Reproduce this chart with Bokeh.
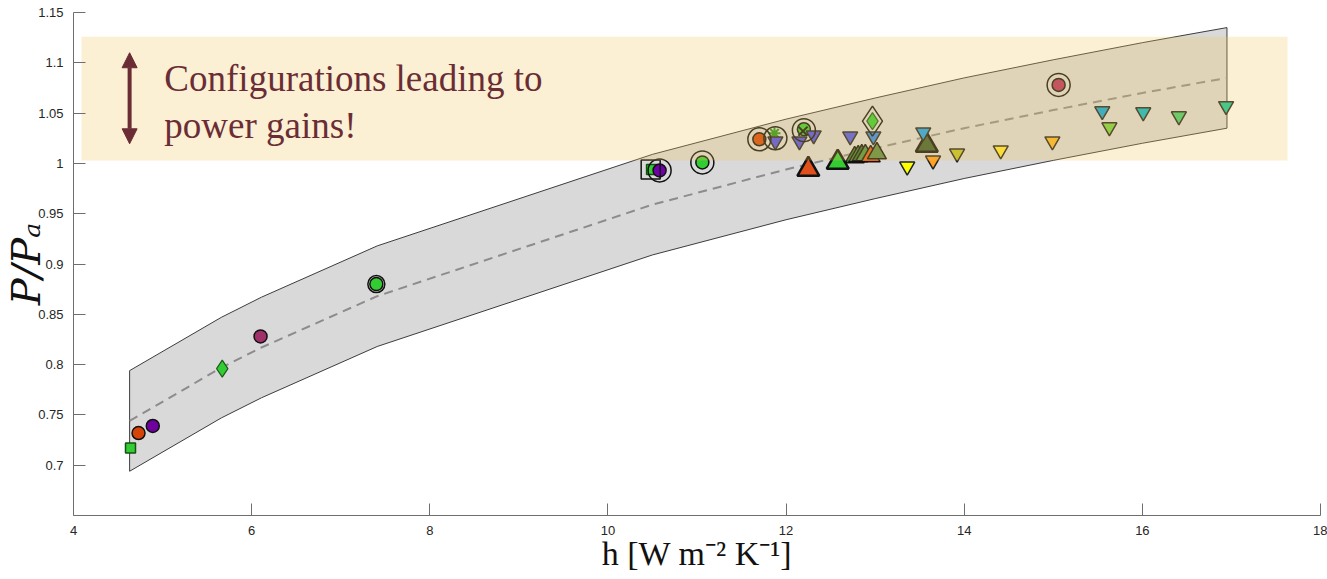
from bokeh.plotting import figure
from bokeh.models import (Range1d, FixedTicker, NumeralTickFormatter, Label,
                          Arrow, NormalHead)
from bokeh.embed import file_html
from bokeh.resources import INLINE

# ---------------- data ----------------
x_ticks = [4, 6, 8, 10, 12, 14, 16, 18]
y_ticks = [0.7, 0.75, 0.8, 0.85, 0.9, 0.95, 1.0, 1.05, 1.1, 1.15]
x_title = "h [W m\u207b\u00b2 K\u207b\u00b9]"
y_title = "P/P\u2090"

# fitted trend (dashed) and its uncertainty band
band_h     = [4.63, 5.66, 6.11, 7.41, 10.5, 12.0, 13.0, 14.0, 15.0, 16.0, 16.95]
trend_p    = [0.744, 0.797, 0.817, 0.868, 0.959, 0.994, 1.015, 1.035, 1.053, 1.070, 1.085]
band_upper = [0.794, 0.847, 0.867, 0.918, 1.009, 1.044, 1.065, 1.085, 1.103, 1.120, 1.135]
band_lower = [0.694, 0.747, 0.767, 0.818, 0.909, 0.944, 0.965, 0.985, 1.003, 1.020, 1.035]

# highlighted "power gain" region
gain_h = [4.09, 17.63]
gain_p = [1.003, 1.126]

# filled circles
circle_h = [4.73, 4.89, 6.10, 7.40, 10.58, 11.06, 11.70, 12.20, 15.06]
circle_p = [0.732, 0.739, 0.828, 0.880, 0.993, 1.001, 1.024, 1.034, 1.078]
circle_c = ["#D6440A", "#6E00A0", "#A0306A", "#33CC33", "#7000A8",
            "#33CC33", "#D6440A", "#33CC33", "#B32E62"]

# filled squares
square_h = [4.64, 10.49]
square_p = [0.717, 0.994]
square_c = ["#33CC33", "#33CC33"]

# filled diamonds
diamond_h = [5.67, 12.97]
diamond_p = [0.796, 1.042]
diamond_c = ["#33CC33", "#33CC33"]

# upward triangles (cluster)
tri_h = [12.77, 12.81, 12.85, 12.89, 12.95, 13.02]
tri_p = [1.006, 1.007, 1.008, 1.008, 1.007, 1.010]
tri_c = ["#2F7F2F", "#3A8A32", "#2B6E2B", "#4A9040", "#E85A12", "#5A8A44"]

# large upward triangles
bigtri_h = [12.25, 12.58, 13.58]
bigtri_p = [0.994, 1.001, 1.018]
bigtri_c = ["#E0501A", "#33CC33", "#3E5E30"]

# downward triangles
itri_h = [11.88, 12.15, 12.31, 12.72, 12.98, 13.36, 13.54, 13.65,
          13.92, 14.41, 14.99, 15.55, 15.63, 16.01, 16.41, 16.94]
itri_p = [1.022, 1.022, 1.028, 1.027, 1.027, 0.997, 1.031, 1.003,
          1.010, 1.013, 1.022, 1.052, 1.036, 1.051, 1.047, 1.057]
itri_c = ["#4B4BEB", "#4B4BEB", "#4B4BEB", "#4B55EE", "#2D86F0", "#FFFF00",
          "#1AA0F0", "#FFA020", "#BDC125", "#FFE530", "#FAB428", "#0AA5DC",
          "#76D040", "#00B8C8", "#40CC70", "#10C89A"]

# highlight rings / open outlines
ring_h = [10.58, 11.06, 11.70, 11.88, 12.20, 15.06]
ring_p = [0.993, 1.001, 1.024, 1.025, 1.033, 1.078]
ring_small_h = [7.40]
ring_small_p = [0.880]
open_square_h = [10.48]
open_square_p = [0.994]
open_diamond_h = [12.97]
open_diamond_p = [1.042]
cross_h = [12.19]
cross_p = [1.032]
star_h = [11.87]
star_p = [1.030]

# ---------------- figure ----------------
p = figure(width=1327, height=579, output_backend="svg", toolbar_location=None,
           x_range=Range1d(4, 18), y_range=Range1d(0.65, 1.15),
           min_border_left=72, min_border_right=7, min_border_top=12,
           min_border_bottom=64)
p.outline_line_color = None
p.grid.visible = False
p.background_fill_color = "white"
p.border_fill_color = "white"

for ax in (p.xaxis[0], p.yaxis[0]):
    ax.axis_line_color = "#6e6e6e"
    ax.major_tick_line_color = "#6e6e6e"
    ax.major_tick_in = 12
    ax.major_tick_out = 0
    ax.minor_tick_in = 0
    ax.minor_tick_out = 0
    ax.major_label_text_font = "Liberation Sans"
    ax.major_label_text_font_size = "13px"
    ax.major_label_text_color = "#262626"
    ax.major_label_standoff = 10
    ax.axis_label_text_font = "Liberation Serif"
    ax.axis_label_text_color = "#111111"

p.xaxis.ticker = FixedTicker(ticks=x_ticks, minor_ticks=[])
p.yaxis.ticker = FixedTicker(ticks=y_ticks, minor_ticks=[])
p.yaxis.formatter = NumeralTickFormatter(format="0.[00]")

p.xaxis.axis_label = x_title
p.xaxis.axis_label_text_font_size = "34px"
p.xaxis.axis_label_text_font_style = "normal"
p.xaxis.axis_label_standoff = -3

p.yaxis.axis_label = y_title
p.yaxis.axis_label_text_font = "DejaVu Serif"
p.yaxis.axis_label_text_font_size = "40px"
p.yaxis.axis_label_text_font_style = "italic"
p.yaxis.axis_label_standoff = -14

# band and trend
p.patch(band_h + band_h[::-1], band_upper + band_lower[::-1],
        fill_color="#d9d9d9", line_color="#3c3c3c", line_width=1)
p.line(band_h, trend_p, line_color="#8c8c8c", line_width=2, line_dash="9 6")

edge = "#111111"
p.scatter(star_h, star_p, marker="asterisk", size=12, line_color="#26931A", line_width=2)
p.scatter(square_h, square_p, marker="square", size=10, fill_color=square_c,
          line_color="#145214", line_width=1.5)
p.scatter(circle_h, circle_p, marker="circle", size=13, fill_color=circle_c,
          line_color=edge, line_width=1.5)
p.scatter(diamond_h, diamond_p, marker="diamond", size=17, fill_color=diamond_c,
          line_color="#1E5A1E", line_width=1.2)
p.scatter(bigtri_h, bigtri_p, marker="triangle", size=22, fill_color=bigtri_c,
          line_color=edge, line_width=2.5)
p.scatter(tri_h, tri_p, marker="triangle", size=19, fill_color=tri_c,
          line_color=edge, line_width=1.5)
p.scatter(itri_h, itri_p, marker="inverted_triangle", size=15, fill_color=itri_c,
          line_color="#222222", line_width=1.5)
p.scatter(cross_h, cross_p, marker="x", size=13, line_color="#111111", line_width=2)
p.scatter(ring_h, ring_p, marker="circle", size=23, fill_color=None,
          line_color=edge, line_width=1.5)
p.scatter(ring_small_h, ring_small_p, marker="circle", size=17, fill_color=None,
          line_color=edge, line_width=1.5)
p.scatter(open_square_h, open_square_p, marker="square", size=19, fill_color=None,
          line_color=edge, line_width=1.5)
p.scatter(open_diamond_h, open_diamond_p, marker="diamond", size=30, fill_color=None,
          line_color=edge, line_width=1.5)

# translucent highlight drawn over everything
p.quad(left=[gain_h[0]], right=[gain_h[1]], bottom=[gain_p[0]], top=[gain_p[1]],
       fill_color="#F0C556", fill_alpha=0.26, line_color=None)

maroon = "#6B2D35"
p.add_layout(Arrow(x_start=4.63, y_start=1.0195, x_end=4.63, y_end=1.110,
                   line_color=maroon, line_width=4,
                   start=NormalHead(size=15, fill_color=maroon, line_color=maroon),
                   end=NormalHead(size=15, fill_color=maroon, line_color=maroon)))
for txt, yy in (("Configurations leading to", 1.0843), ("power gains!", 1.0375)):
    p.add_layout(Label(x=5.02, y=yy, text=txt, text_font="Liberation Serif",
                       text_font_size="37px", text_color=maroon,
                       text_baseline="alphabetic", text_align="left"))

open("out.html", "w").write(file_html(p, INLINE))
